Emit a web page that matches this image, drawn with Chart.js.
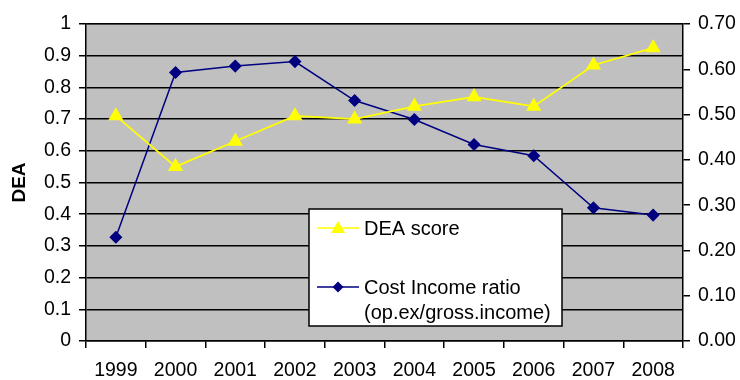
<!DOCTYPE html>
<html><head><meta charset="utf-8">
<script src="https://cdn.jsdelivr.net/npm/chart.js@4/dist/chart.umd.min.js"></script>
<style>html,body{margin:0;padding:0;background:#fff}#wrap{width:740px;height:380px}</style>
</head><body><div id="wrap"><canvas id="c" width="740" height="380"></canvas></div>
<script>
const years = ['1999','2000','2001','2002','2003','2004','2005','2006','2007','2008'];
const deaScore = [0.71, 0.55, 0.63, 0.71, 0.70, 0.74, 0.77, 0.74, 0.87, 0.925];
const costIncome = [0.229, 0.593, 0.607, 0.617, 0.531, 0.489, 0.434, 0.409, 0.294, 0.278];
const deaLabel = 'DEA score';
const ciLabel = ['Cost Income ratio', '(op.ex/gross.income)'];
const leftTitle = 'DEA';

const FONT = '"Liberation Sans", Arial, sans-serif';

const bgPlugin = {
  id: 'bg',
  beforeDraw(chart) {
    const {ctx, chartArea: a} = chart;
    ctx.save();
    ctx.fillStyle = '#C0C0C0';
    ctx.fillRect(a.left, a.top, a.right - a.left, a.bottom - a.top);
    ctx.strokeStyle = '#808080';
    ctx.lineWidth = 1.5;
    ctx.beginPath(); ctx.moveTo(a.left, a.top); ctx.lineTo(a.right, a.top); ctx.stroke();
    ctx.restore();
  }
};

const legendPlugin = {
  id: 'boxLegend',
  afterDraw(chart) {
    const ctx = chart.ctx;
    const x0 = 309, y0 = 209, w = 253, h = 117;
    ctx.save();
    ctx.fillStyle = '#fff';
    ctx.fillRect(x0, y0, w, h);
    ctx.strokeStyle = '#000';
    ctx.lineWidth = 1.5;
    ctx.strokeRect(x0, y0, w, h);
    ctx.font = '20px ' + FONT;
    ctx.textBaseline = 'middle';
    ctx.textAlign = 'left';
    const ds = chart.data.datasets;
    const rows = [228, 287];
    ds.forEach((d, i) => {
      const y = rows[i];
      ctx.strokeStyle = d.borderColor;
      ctx.lineWidth = 1.5;
      ctx.beginPath(); ctx.moveTo(317, y); ctx.lineTo(359, y); ctx.stroke();
      ctx.fillStyle = d.pointBackgroundColor;
      ctx.beginPath();
      if (d.pointStyle === 'triangle') {
        ctx.moveTo(338, y - 7); ctx.lineTo(345, y + 5); ctx.lineTo(331, y + 5);
      } else {
        ctx.moveTo(338, y - 5.5); ctx.lineTo(343.5, y); ctx.lineTo(338, y + 5.5); ctx.lineTo(332.5, y);
      }
      ctx.closePath(); ctx.fill();
      ctx.fillStyle = '#000';
      const lbl = Array.isArray(d.label) ? d.label : [d.label];
      lbl.forEach((t, j) => ctx.fillText(t, 364, y + 1 + j * 25));
    });
    ctx.restore();
  }
};

new Chart(document.getElementById('c'), {
  type: 'line',
  data: {
    labels: years,
    datasets: [
      { label: deaLabel, data: deaScore, yAxisID: 'y', borderColor: '#FFFF00', backgroundColor: '#FFFF00',
        pointBackgroundColor: '#FFFF00', pointBorderColor: '#FFFF00', pointStyle: 'triangle',
        pointRadius: 7, borderWidth: 1.8, tension: 0 },
      { label: ciLabel, data: costIncome, yAxisID: 'y1', borderColor: '#000080', backgroundColor: '#000080',
        pointBackgroundColor: '#000080', pointBorderColor: '#000080', pointStyle: 'rectRot',
        pointRadius: 5.5, borderWidth: 1.5, tension: 0 }
    ]
  },
  options: {
    responsive: false,
    animation: false,
    layout: { padding: { top: 24, left: 0, right: 0, bottom: 0 } },
    plugins: { legend: { display: false }, tooltip: { enabled: false } },
    scales: {
      x: {
        offset: true,
        grid: { offset: true, drawOnChartArea: false, color: '#000', lineWidth: 1.5, tickLength: 7 },
        border: { color: '#000', width: 1.5 },
        ticks: { color: '#000', font: { family: FONT, size: 19.5 }, padding: 11, maxRotation: 0 },
        afterFit(s) { s.height = 39; }
      },
      y: {
        position: 'left', min: 0, max: 1,
        ticks: { stepSize: 0.1, color: '#000', font: { family: FONT, size: 19.5 }, padding: 8,
          callback: v => String(Math.round(v * 10) / 10) },
        grid: { color: '#000', lineWidth: 1.5, tickLength: 7 },
        border: { color: '#000', width: 1.5 },
        title: { display: true, text: leftTitle, color: '#000', font: { family: FONT, size: 19, weight: 'bold' }, padding: { top: 8, bottom: 0 } },
        afterFit(s) { s.width = 86; }
      },
      y1: {
        position: 'right', min: 0, max: 0.7,
        ticks: { stepSize: 0.1, color: '#000', font: { family: FONT, size: 19.5 }, padding: 8,
          callback: v => v.toFixed(2) },
        grid: { drawOnChartArea: false, color: '#000', lineWidth: 1.5, tickLength: 7 },
        border: { color: '#000', width: 1.5 },
        afterFit(s) { s.width = 57; }
      }
    }
  },
  plugins: [bgPlugin, legendPlugin]
});
</script>
</body></html>
